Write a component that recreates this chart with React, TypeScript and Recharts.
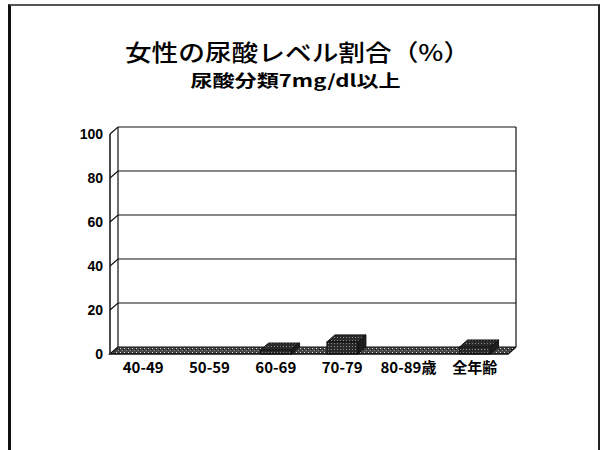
import { BarChart, Bar, XAxis, YAxis } from 'recharts';

const categories = ['40-49', '50-59', '60-69', '70-79', '80-89歳', '全年齢'];
const femaleRatio = [0, 0, 1.8, 5.5, 0, 3.2];
const yTicks = [0, 20, 40, 60, 80, 100];

const data = categories.map((name, i) => ({ name, value: femaleRatio[i] }));

// plot box (front plane) and 3D depth offset
const PLOT_LEFT = 110;
const PLOT_RIGHT = 508;
const PLOT_TOP = 134;
const PLOT_BOTTOM = 354;
const DX = 8;
const DY = 7;
const BAND = (PLOT_RIGHT - PLOT_LEFT) / categories.length;

const YTick = ({ y, payload }: any) => {
  const v = payload.value;
  return (
    <g>
      {v === 0 ? (
        <g>
          <line x1={PLOT_LEFT + DX} y1={y - DY} x2={PLOT_LEFT + DX} y2={PLOT_TOP - DY} stroke="#111" strokeWidth={1.2} />
          <line x1={PLOT_RIGHT + DX} y1={y - DY} x2={PLOT_RIGHT + DX} y2={PLOT_TOP - DY} stroke="#111" strokeWidth={1.2} />
          <polyline
            points={`${PLOT_LEFT + DX},${y - DY} ${PLOT_LEFT},${y} ${PLOT_RIGHT},${y} ${PLOT_RIGHT + DX},${y - DY}`}
            fill="none"
            stroke="#111"
            strokeWidth={1.5}
          />
        </g>
      ) : (
        <polyline
          points={`${PLOT_LEFT},${y} ${PLOT_LEFT + DX},${y - DY} ${PLOT_RIGHT + DX},${y - DY}`}
          fill="none"
          stroke="#111"
          strokeWidth={1.2}
        />
      )}
      <text
        x={PLOT_LEFT - 7}
        y={y + 5}
        textAnchor="end"
        fontSize={14}
        fontWeight={700}
        fontFamily="'Liberation Sans', Arial, sans-serif"
        fill="#000"
      >
        {v}
      </text>
    </g>
  );
};

const XTick = ({ x, y, payload }: any) => (
  <text
    x={x}
    y={y + 11}
    textAnchor="middle"
    fontSize={15}
    fontWeight={700}
    fontFamily="'Noto Sans CJK JP', sans-serif"
    fill="#000"
  >
    {payload.value}
  </text>
);

// floor slab, one segment per category band, drawn under the bars
const FloorSegment = ({ x, width, y, height, index }: any) => {
  const cx = x + width / 2;
  const x0 = Math.max(PLOT_LEFT, cx - BAND / 2);
  const x1 = Math.min(PLOT_RIGHT, cx + BAND / 2 + 0.6);
  const yb = y + height;
  return (
    <g>
      <defs>
        <pattern id={`floorDots${index}`} width="4" height="4" patternUnits="userSpaceOnUse">
          <rect width="4" height="4" fill="#444" />
          <rect x="0" y="0" width="1" height="1" fill="#ddd" />
          <rect x="2" y="2" width="1" height="1" fill="#999" />
          <rect x="3" y="1" width="1" height="1" fill="#111" />
        </pattern>
      </defs>
      <polygon
        points={`${x0},${yb} ${x1},${yb} ${x1 + DX},${yb - DY} ${x0 + DX},${yb - DY}`}
        fill={`url(#floorDots${index})`}
      />
      <line x1={x0 + DX} y1={yb - DY} x2={x1 + DX} y2={yb - DY} stroke="#111" strokeWidth={1.2} />
    </g>
  );
};

const Bar3D = ({ x, y, width, height }: any) => {
  if (!height || height <= 0.5) return null;
  const w = width;
  return (
    <g>
      <defs>
        <pattern id="barDots" width="3" height="3" patternUnits="userSpaceOnUse">
          <rect width="3" height="3" fill="#2a2a2a" />
          <rect x="1" y="1" width="1" height="1" fill="#888" />
        </pattern>
      </defs>
      <polygon
        points={`${x},${y} ${x + w},${y} ${x + w + DX},${y - DY} ${x + DX},${y - DY}`}
        fill="url(#barDots)"
        stroke="#111"
        strokeWidth={1}
      />
      <polygon
        points={`${x + w},${y} ${x + w + DX},${y - DY} ${x + w + DX},${y + height - DY} ${x + w},${y + height}`}
        fill="#1e1e1e"
        stroke="#111"
        strokeWidth={1}
      />
      <rect x={x} y={y} width={w} height={height} fill="url(#barDots)" stroke="#111" strokeWidth={1} />
    </g>
  );
};

export default function App() {
  return (
    <div style={{ position: 'absolute', left: 0, top: 0, width: 600, height: 450, background: '#fff', overflow: 'hidden' }}>
      <div
        style={{
          position: 'absolute',
          left: 8,
          top: 4,
          width: 587,
          height: 446,
          borderLeft: '3px solid #111',
          borderTop: '2px solid #555',
          borderRight: '2px solid #222',
        }}
      />
      <div
        style={{
          position: 'absolute',
          left: 0,
          top: 40,
          width: 595,
          textAlign: 'center',
          fontFamily: "'Noto Sans CJK JP', sans-serif",
          fontSize: 23,
          fontWeight: 500,
          lineHeight: 1,
          transform: 'scaleX(1.16)',
          color: '#000',
        }}
      >
        女性の尿酸レベル割合（%）
      </div>
      <div
        style={{
          position: 'absolute',
          left: 0,
          top: 71,
          width: 591,
          textAlign: 'center',
          fontFamily: "'Noto Sans CJK JP', sans-serif",
          fontSize: 17,
          fontWeight: 700,
          lineHeight: 1,
          transform: 'scaleX(1.3)',
          color: '#000',
        }}
      >
        尿酸分類7mg/dl以上
      </div>
      <div style={{ position: 'absolute', left: 0, top: 0 }}>
        <BarChart
          width={600}
          height={450}
          data={data}
          margin={{ top: PLOT_TOP, right: 600 - PLOT_RIGHT, bottom: 450 - PLOT_BOTTOM - 30, left: PLOT_LEFT - 50 }}
          barCategoryGap="27%"
        >
          <YAxis
            type="number"
            domain={[0, 100]}
            ticks={yTicks}
            width={50}
            axisLine={{ stroke: '#111', strokeWidth: 1.5 }}
            tickLine={false}
            tick={<YTick />}
            interval={0}
          />
          <XAxis dataKey="name" height={30} axisLine={false} tickLine={false} tick={<XTick />} interval={0} />
          <Bar dataKey="value" background={<FloorSegment />} shape={<Bar3D />} isAnimationActive={false} />
        </BarChart>
      </div>
    </div>
  );
}
